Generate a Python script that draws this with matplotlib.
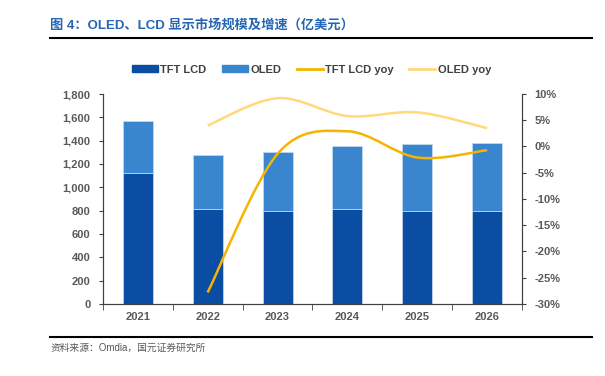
import numpy as np
import matplotlib.pyplot as plt
from matplotlib.path import Path
from matplotlib.patches import PathPatch, Patch
from matplotlib.lines import Line2D

plt.rcParams['font.family'] = ['Liberation Sans', 'Noto Sans CJK SC', 'DejaVu Sans']

# data
years = ['2021', '2022', '2023', '2024', '2025', '2026']
tft_lcd = [1125, 811, 794, 817, 800, 796]
oled = [446, 463, 506, 534, 569, 587]
yoy_years = [1, 2, 3, 4, 5]
tft_lcd_yoy = [-27.8, -1.4, 2.9, -2.1, -0.7]
oled_yoy = [4.0, 9.2, 5.8, 6.5, 3.5]

c_lcd = '#0B4DA2'
c_oled = '#3A86CE'
c_lcd_yoy = '#F5B400'
c_oled_yoy = '#FFD97A'
tick_col = '#595959'


def smooth_path(xs, ys, tension=1/6):
    # Excel-like smoothed line: Catmull-Rom turned into cubic Bezier segments
    pts = np.column_stack([xs, ys]).astype(float)
    verts = [pts[0]]
    codes = [Path.MOVETO]
    n = len(pts)
    for i in range(n - 1):
        p0 = pts[i - 1] if i > 0 else pts[i]
        p1 = pts[i]
        p2 = pts[i + 1]
        p3 = pts[i + 2] if i + 2 < n else pts[i + 1]
        c1 = p1 + (p2 - p0) * tension
        c2 = p2 - (p3 - p1) * tension
        verts += [c1, c2, p2]
        codes += [Path.CURVE4] * 3
    return Path(verts, codes)


fig = plt.figure(figsize=(6.05, 3.76), dpi=100)
ax = fig.add_axes([0.170, 0.1915, 0.693, 0.5585])
ax2 = ax.twinx()

x = np.arange(len(years))
ax.bar(x, tft_lcd, width=0.43, color=c_lcd, edgecolor='#C9DBEF', linewidth=0.5, zorder=2)
ax.bar(x, oled, width=0.43, bottom=tft_lcd, color=c_oled, edgecolor='#C9DBEF', linewidth=0.5, zorder=2)

ax.set_xlim(-0.5, 5.5)
ax.set_ylim(0, 1800)
ax.set_yticks(range(0, 1801, 200))
ax.set_yticklabels([f'{v:,}' for v in range(0, 1801, 200)])
ax.set_xticks(x)
ax.set_xticklabels(years)
ax.set_xticks(np.arange(-0.5, 5.6, 1), minor=True)
ax.tick_params(axis='x', which='major', length=0, pad=6)
ax.tick_params(axis='x', which='minor', length=4, direction='out', color='#404040')
ax.tick_params(axis='y', length=3, direction='out', color='#404040', pad=6)

ax2.set_ylim(-30, 10)
ax2.set_yticks(range(-30, 11, 5))
ax2.set_yticklabels([f'{v}%' for v in range(-30, 11, 5)])
ax2.tick_params(axis='y', length=3, direction='out', color='#404040', pad=6)

ax2.add_patch(PathPatch(smooth_path(yoy_years, tft_lcd_yoy), fill=False,
                        edgecolor=c_lcd_yoy, linewidth=1.8, zorder=3))
ax2.add_patch(PathPatch(smooth_path(yoy_years, oled_yoy), fill=False,
                        edgecolor=c_oled_yoy, linewidth=1.8, zorder=3))

for a in (ax, ax2):
    a.spines['top'].set_visible(False)
    for s in ('left', 'right', 'bottom'):
        a.spines[s].set_color('#404040')
        a.spines[s].set_linewidth(0.8)
    for lab in a.get_xticklabels() + a.get_yticklabels():
        lab.set_fontweight('bold')
        lab.set_fontsize(8)
        lab.set_color(tick_col)

handles = [Patch(color=c_lcd), Patch(color=c_oled),
           Line2D([], [], color=c_lcd_yoy, lw=2), Line2D([], [], color=c_oled_yoy, lw=2)]
labels = ['TFT LCD', 'OLED', 'TFT LCD yoy', 'OLED yoy']
leg = fig.legend(handles, labels, loc='center', bbox_to_anchor=(0.515, 0.815), ncol=4,
                 frameon=False, prop={'weight': 'bold', 'size': 8},
                 handlelength=2.3, handleheight=0.6, handletextpad=0.25, columnspacing=1.4)
for t in leg.get_texts():
    t.set_color('#404040')

fig.text(0.083, 0.933, '图 4：OLED、LCD 显示市场规模及增速（亿美元）', fontsize=9.5,
         fontweight='bold', color='#2466B4', va='center')
fig.add_artist(Line2D([0.083, 0.978], [0.900, 0.900], color='black', lw=1.5))
fig.add_artist(Line2D([0.083, 0.978], [0.104, 0.104], color='black', lw=1.5))
fig.text(0.083, 0.074, '资料来源：Omdia，国元证券研究所', fontsize=7, color='#595959', va='center')

fig.savefig('out.png', dpi=100)
